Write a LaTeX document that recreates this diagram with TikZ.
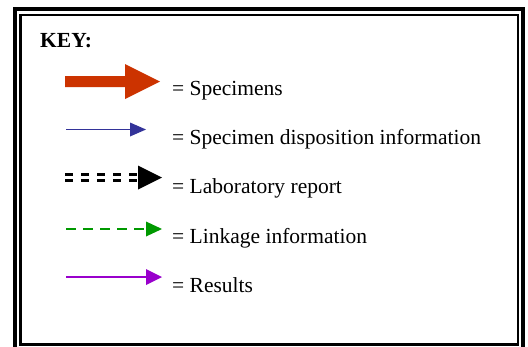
\documentclass[tikz,border=0pt]{standalone}
\usepackage{fontspec}
\setmainfont{Liberation Serif}
\usetikzlibrary{calc}
\definecolor{specred}{HTML}{CC3300}
\definecolor{dispblue}{HTML}{333399}
\definecolor{linkgreen}{HTML}{009900}
\definecolor{respurple}{HTML}{9900CC}
\tikzset{
  frameouter/.style={line width=3.2pt, black},
  frameinner/.style={line width=2.4pt, black},
  keylabel/.style={anchor=base west, inner sep=0pt, font=\fontsize{21.5}{25}\selectfont},
  keytitle/.style={anchor=base west, inner sep=0pt, font=\fontsize{21.5}{25}\selectfont\bfseries},
}
\begin{document}
\begin{tikzpicture}[x=1pt, y=-1pt]
  \useasboundingbox (0,0) rectangle (528,346);
  \fill[white] (0,0) rectangle (528,346);
  \begin{scope}
    \clip (0,0) rectangle (528,346);
    % double frame, open at the bottom edge of the page
    \draw[frameouter] (15,9) rectangle (523,380);
    \draw[frameinner] (20.5,15) rectangle (518,344.5);
  \end{scope}

  \node[keytitle] (title) at (40,47) {KEY:};

  % specimens: broad block arrow
  \coordinate (sA) at (65,81.5);
  \coordinate (sB) at (160,81.5);
  \fill[specred] ($(sA)+(0,-5.5)$) -- ($(sB)+(-35,-5.5)$) -- ($(sB)+(-35,-17.5)$)
     -- (sB) -- ($(sB)+(-35,17.5)$) -- ($(sB)+(-35,5.5)$) -- ($(sA)+(0,5.5)$) -- cycle;
  \node[keylabel] (lspec) at (172,95) {= Specimens};

  % specimen disposition information: thin blue arrow
  \coordinate (dA) at (66,129.5);
  \coordinate (dB) at (146,129.5);
  \draw[dispblue, line width=1.9pt] (dA) -- ($(dB)+(-15,0)$);
  \fill[dispblue] (dB) -- ($(dB)+(-16,-7)$) -- ($(dB)+(-16,7)$) -- cycle;
  \node[keylabel] (ldisp) at (172,144) {= Specimen disposition information};

  % laboratory report: double dashed black arrow
  \coordinate (rA) at (65,177.5);
  \coordinate (rB) at (162,177.5);
  \draw[black, line width=3.2pt, double=white, double distance=2.4pt,
        dash pattern=on 7.5pt off 8.5pt] (rA) -- ($(rB)+(-24,0)$);
  \fill[black] (rB) -- ($(rB)+(-24,-12)$) -- ($(rB)+(-24,12)$) -- cycle;
  \node[keylabel] (lrep) at (172,193) {= Laboratory report};

  % linkage information: dashed green arrow
  \coordinate (gA) at (66,229);
  \coordinate (gB) at (162,229);
  \draw[linkgreen, line width=2.4pt, dash pattern=on 10pt off 7pt] (gA) -- ($(gB)+(-16,0)$);
  \fill[linkgreen] (gB) -- ($(gB)+(-16,-7.5)$) -- ($(gB)+(-16,7.5)$) -- cycle;
  \node[keylabel] (llink) at (172,243) {= Linkage information};

  % results: solid purple arrow
  \coordinate (pA) at (66,277);
  \coordinate (pB) at (162,277);
  \draw[respurple, line width=2.4pt] (pA) -- ($(pB)+(-15,0)$);
  \fill[respurple] (pB) -- ($(pB)+(-16,-8)$) -- ($(pB)+(-16,8)$) -- cycle;
  \node[keylabel] (lres) at (172,292) {= Results};
\end{tikzpicture}
\end{document}
